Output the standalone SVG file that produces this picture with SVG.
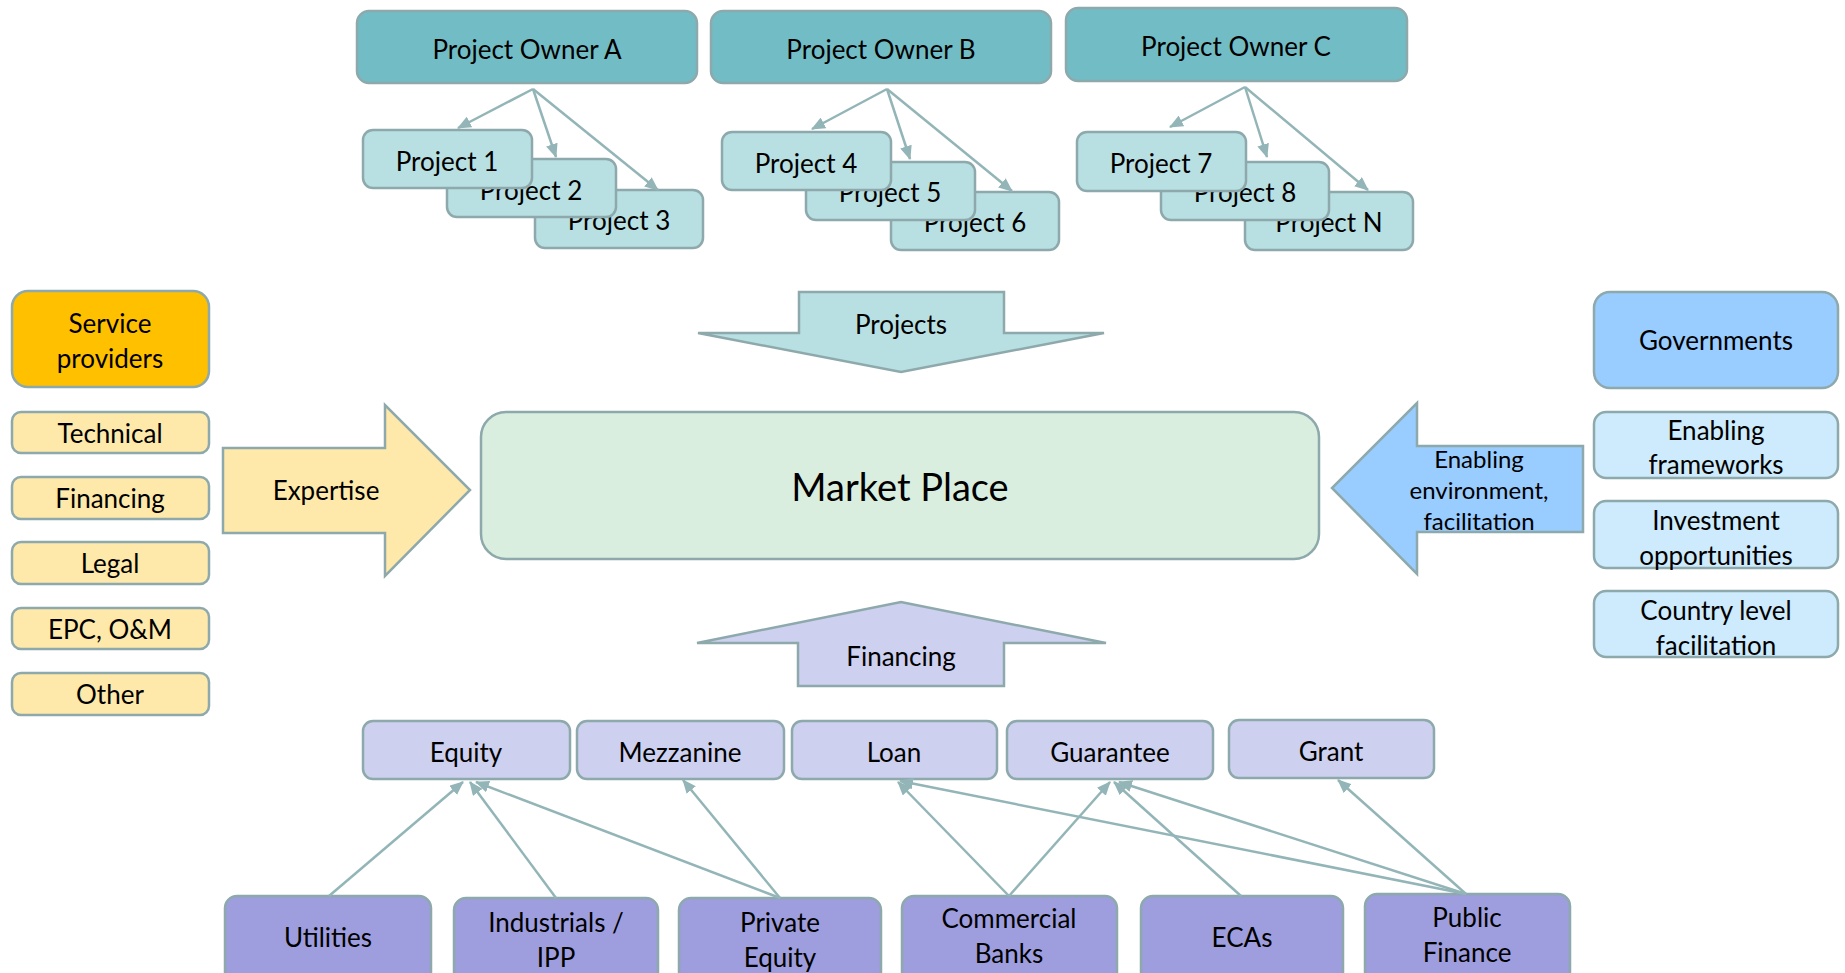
<svg xmlns="http://www.w3.org/2000/svg" width="1845" height="973" viewBox="0 0 1845 973">
<style>
text{font-family:Lato,"Liberation Sans",sans-serif;fill:#000;text-anchor:middle;dominant-baseline:central;font-size:26px}
.bx{stroke:#8DA9AC;stroke-width:2.5}
.own{fill:#72BDC5}
.prj{fill:#B8DFE2}
.mp{fill:#DAEEDF}
.sp{fill:#FFC000}
.ly{fill:#FFE9AA}
.gv{fill:#99CCFF}
.lb{fill:#CDEBFC}
.lv{fill:#CDD0EE}
.pu{fill:#9E9EDE}
.cn line{stroke:#93B5B7;stroke-width:2.5;marker-end:url(#ah)}
</style>
<defs>
<marker id="ah" viewBox="0 0 14 12" refX="13" refY="6" markerWidth="14" markerHeight="12" markerUnits="userSpaceOnUse" orient="auto">
<path d="M0,0 L14,6 L0,12 z" fill="#93B5B7"/>
</marker>
</defs>
<rect width="1845" height="973" fill="#fff"/>

<g id="owner-a"><rect class="bx own" x="357" y="11" width="340" height="72" rx="12"/><text x="527" y="49">Project Owner A</text></g>
<g id="owner-b"><rect class="bx own" x="711" y="11" width="340" height="72" rx="12"/><text x="881" y="49">Project Owner B</text></g>
<g id="owner-c"><rect class="bx own" x="1066" y="8" width="341" height="73" rx="12"/><text x="1236" y="46">Project Owner C</text></g>

<g id="project-3"><rect class="bx prj" x="535" y="190" width="168" height="58" rx="10"/><text x="619" y="220">Project 3</text></g>
<g id="project-2"><rect class="bx prj" x="447" y="159" width="169" height="58" rx="10"/><text x="531" y="190">Project 2</text></g>
<g id="project-1"><rect class="bx prj" x="363" y="130" width="169" height="58" rx="10"/><text x="447" y="161">Project 1</text></g>

<g id="project-6"><rect class="bx prj" x="891" y="192" width="168" height="58" rx="10"/><text x="975" y="222">Project 6</text></g>
<g id="project-5"><rect class="bx prj" x="806" y="162" width="169" height="58" rx="10"/><text x="890" y="192">Project 5</text></g>
<g id="project-4"><rect class="bx prj" x="722" y="132" width="169" height="58" rx="10"/><text x="806" y="163">Project 4</text></g>

<g id="project-n"><rect class="bx prj" x="1245" y="192" width="168" height="58" rx="10"/><text x="1329" y="222">Project N</text></g>
<g id="project-8"><rect class="bx prj" x="1161" y="162" width="168" height="58" rx="10"/><text x="1245" y="192">Project 8</text></g>
<g id="project-7"><rect class="bx prj" x="1077" y="132" width="169" height="59" rx="10"/><text x="1161" y="163">Project 7</text></g>

<g id="projects-arrow"><polygon class="bx prj" points="799,292 1004,292 1004,333 1104,333 901,372 698,333 799,333"/><text x="901" y="324">Projects</text></g>

<g id="market-place"><rect class="bx mp" x="481" y="412" width="838" height="147" rx="25"/><text x="900" y="486" style="font-size:38px">Market Place</text></g>

<g id="service-providers"><rect class="bx sp" x="12" y="291" width="197" height="96" rx="16"/><text x="110" y="323">Service</text><text x="110" y="358">providers</text></g>
<g id="technical"><rect class="bx ly" x="12" y="412" width="197" height="41" rx="9"/><text x="110" y="433">Technical</text></g>
<g id="financing-sp"><rect class="bx ly" x="12" y="477" width="197" height="42" rx="9"/><text x="110" y="498">Financing</text></g>
<g id="legal"><rect class="bx ly" x="12" y="542" width="197" height="42" rx="9"/><text x="110" y="563">Legal</text></g>
<g id="epc"><rect class="bx ly" x="12" y="608" width="197" height="41" rx="9"/><text x="110" y="629">EPC, O&amp;M</text></g>
<g id="other"><rect class="bx ly" x="12" y="673" width="197" height="42" rx="9"/><text x="110" y="694">Other</text></g>

<g id="expertise-arrow"><polygon class="bx ly" points="223,448 385,448 385,405 470,490 385,576 385,533 223,533"/><text x="326" y="490">Expertise</text></g>

<g id="governments"><rect class="bx gv" x="1594" y="292" width="244" height="96" rx="16"/><text x="1716" y="340">Governments</text></g>
<g id="enabling-frameworks"><rect class="bx lb" x="1594" y="412" width="244" height="66" rx="12"/><text x="1716" y="430">Enabling</text><text x="1716" y="464">frameworks</text></g>
<g id="investment-opportunities"><rect class="bx lb" x="1594" y="501" width="244" height="67" rx="12"/><text x="1716" y="520">Investment</text><text x="1716" y="555">opportunities</text></g>
<g id="country-level"><rect class="bx lb" x="1594" y="591" width="244" height="66" rx="12"/><text x="1716" y="610">Country level</text><text x="1716" y="645">facilitation</text></g>

<g id="enabling-arrow"><polygon class="bx gv" points="1583,446 1417,446 1417,403 1332,488 1417,574 1417,532 1583,532"/><text x="1479" y="458" style="font-size:24px">Enabling</text><text x="1479" y="489" style="font-size:24px">environment,</text><text x="1479" y="520" style="font-size:24px">facilitation</text></g>

<g id="financing-arrow"><polygon class="bx lv" points="798,686 798,643 697,643 901,602 1106,643 1004,643 1004,686"/><text x="901" y="656">Financing</text></g>

<g id="equity"><rect class="bx lv" x="363" y="721" width="207" height="58" rx="10"/><text x="466" y="752">Equity</text></g>
<g id="mezzanine"><rect class="bx lv" x="577" y="721" width="207" height="58" rx="10"/><text x="680" y="752">Mezzanine</text></g>
<g id="loan"><rect class="bx lv" x="792" y="721" width="205" height="58" rx="10"/><text x="894" y="752">Loan</text></g>
<g id="guarantee"><rect class="bx lv" x="1007" y="721" width="206" height="58" rx="10"/><text x="1110" y="752">Guarantee</text></g>
<g id="grant"><rect class="bx lv" x="1229" y="720" width="205" height="58" rx="10"/><text x="1331" y="751">Grant</text></g>

<g id="utilities"><rect class="bx pu" x="225" y="896" width="206" height="90" rx="12"/><text x="328" y="937">Utilities</text></g>
<g id="industrials"><rect class="bx pu" x="454" y="898" width="204" height="90" rx="12"/><text x="556" y="922">Industrials /</text><text x="556" y="957">IPP</text></g>
<g id="private-equity"><rect class="bx pu" x="679" y="898" width="202" height="90" rx="12"/><text x="780" y="922">Private</text><text x="780" y="957">Equity</text></g>
<g id="commercial-banks"><rect class="bx pu" x="902" y="896" width="215" height="90" rx="12"/><text x="1009" y="918">Commercial</text><text x="1009" y="953">Banks</text></g>
<g id="ecas"><rect class="bx pu" x="1141" y="896" width="202" height="90" rx="12"/><text x="1242" y="937">ECAs</text></g>
<g id="public-finance"><rect class="bx pu" x="1365" y="894" width="205" height="90" rx="12"/><text x="1467" y="917">Public</text><text x="1467" y="952">Finance</text></g>

<g id="connectors" class="cn">
<line x1="533" y1="89" x2="458" y2="128"/>
<line x1="533" y1="89" x2="556" y2="157"/>
<line x1="533" y1="89" x2="658" y2="190"/>
<line x1="887" y1="89" x2="812" y2="129"/>
<line x1="887" y1="89" x2="910" y2="159"/>
<line x1="887" y1="89" x2="1012" y2="191"/>
<line x1="1245" y1="87" x2="1170" y2="127"/>
<line x1="1245" y1="87" x2="1267" y2="157"/>
<line x1="1245" y1="87" x2="1368" y2="190"/>
<line x1="329" y1="896" x2="463" y2="782"/>
<line x1="556" y1="898" x2="470" y2="782"/>
<line x1="780" y1="898" x2="476" y2="782"/>
<line x1="780" y1="898" x2="683" y2="780"/>
<line x1="1009" y1="896" x2="898" y2="782"/>
<line x1="1009" y1="896" x2="1110" y2="782"/>
<line x1="1241" y1="896" x2="1114" y2="782"/>
<line x1="1466" y1="894" x2="900" y2="781"/>
<line x1="1466" y1="894" x2="1119" y2="782"/>
<line x1="1466" y1="894" x2="1338" y2="780"/>
</g>
</svg>
